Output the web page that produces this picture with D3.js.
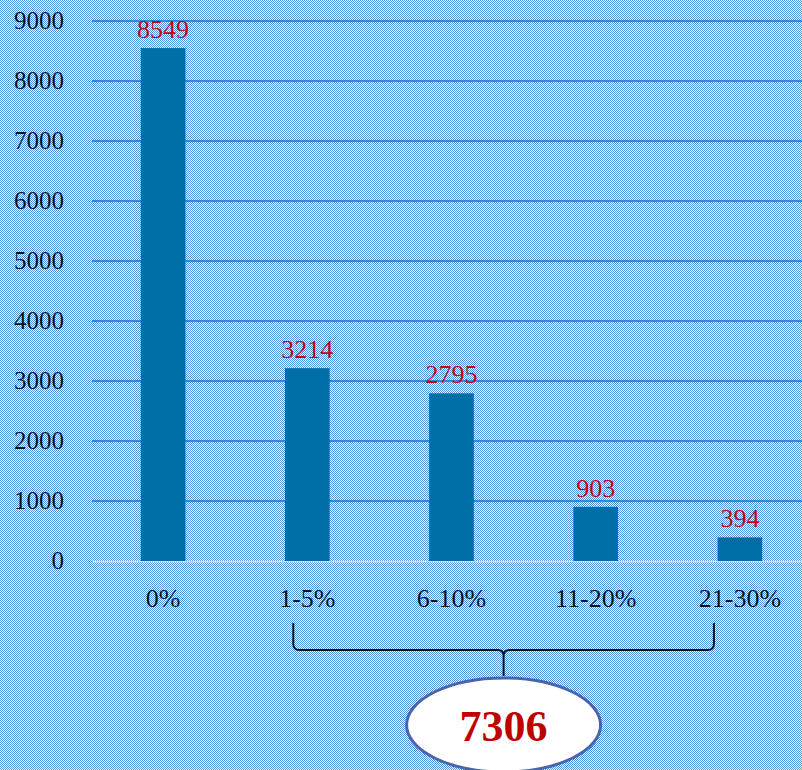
<!DOCTYPE html>
<html>
<head>
<meta charset="utf-8">
<script src="https://cdn.jsdelivr.net/npm/d3@7"></script>
<style>
  body { margin: 0; padding: 0; }
  svg { display: block; }
</style>
</head>
<body>
<div class="mainContainer"></div>
<script>
const categories = ['0%', '1-5%', '6-10%', '11-20%', '21-30%'];
const values = [8549, 3214, 2795, 903, 394];
const yTicks = [0, 1000, 2000, 3000, 4000, 5000, 6000, 7000, 8000, 9000];

let width = 802;
let height = 770;
let plotLeft = 91, plotRight = 812, plotTop = 21, plotBottom = 561;
const fontFam = 'Liberation Serif, serif';

const svg = d3.select('.mainContainer')
  .append('svg')
  .attr('width', width)
  .attr('height', height);

// checkered background
const defs = svg.append('defs');
const pat = defs.append('pattern')
  .attr('id', 'checker')
  .attr('width', 2).attr('height', 2)
  .attr('patternUnits', 'userSpaceOnUse');
pat.append('rect').attr('width', 2).attr('height', 2).attr('fill', '#ffffff');
pat.append('rect').attr('x', 0).attr('y', 0).attr('width', 1).attr('height', 1).attr('fill', '#4a8fdd');
pat.append('rect').attr('x', 1).attr('y', 1).attr('width', 1).attr('height', 1).attr('fill', '#4a8fdd');

svg.append('rect')
  .attr('width', width).attr('height', height)
  .attr('fill', 'url(#checker)');

const x = d3.scaleBand().domain(categories).range([plotLeft, plotRight])
  .paddingInner(0.69).paddingOuter(0.345);
const y = d3.scaleLinear().domain([0, 9000]).range([plotBottom, plotTop]);

// gridlines
svg.selectAll('.grid')
  .data(yTicks.filter(d => d > 0))
  .enter()
  .append('line')
  .attr('x1', 92).attr('x2', width)
  .attr('y1', d => y(d)).attr('y2', d => y(d))
  .attr('stroke', '#1f70b4')
  .attr('stroke-width', 1.5);

svg.append('line')
  .attr('x1', 92).attr('x2', width)
  .attr('y1', y(0) + 0.5).attr('y2', y(0) + 0.5)
  .attr('stroke', '#d9d9d9')
  .attr('stroke-width', 1.5);

// y labels
svg.selectAll('.ylab')
  .data(yTicks)
  .enter()
  .append('text')
  .text(d => d)
  .attr('x', 64)
  .attr('y', d => y(d) + 8)
  .attr('text-anchor', 'end')
  .style('font-family', fontFam)
  .style('font-size', '25px')
  .attr('fill', '#111');

// bars
const data = categories.map((c, i) => ({cat: c, value: values[i]}));
svg.selectAll('.bar')
  .data(data)
  .enter()
  .append('rect')
  .attr('x', d => x(d.cat))
  .attr('y', d => y(d.value))
  .attr('width', x.bandwidth())
  .attr('height', d => y(0) - y(d.value))
  .attr('fill', '#006fa8');

// value labels
svg.selectAll('.vlab')
  .data(data)
  .enter()
  .append('text')
  .text(d => d.value)
  .attr('x', d => x(d.cat) + x.bandwidth() / 2)
  .attr('y', d => y(d.value) - 10)
  .attr('text-anchor', 'middle')
  .style('font-family', fontFam)
  .style('font-size', '26px')
  .attr('fill', '#cc0000');

// category labels
svg.selectAll('.xlab')
  .data(categories)
  .enter()
  .append('text')
  .text(d => d)
  .attr('x', d => x(d) + x.bandwidth() / 2)
  .attr('y', 607)
  .attr('text-anchor', 'middle')
  .style('font-family', fontFam)
  .style('font-size', '26px')
  .attr('fill', '#111');

// brace over the non-zero groups
const bx1 = x('1-5%') + x.bandwidth() / 2 - 14;
const bx2 = x('21-30%') + x.bandwidth() / 2 - 26;
const bmid = (bx1 + bx2) / 2;
const by0 = 623, by1 = 650, by2 = 676, r = 6;
const brace = d3.path();
brace.moveTo(bx1, by0);
brace.lineTo(bx1, by1 - r);
brace.quadraticCurveTo(bx1, by1, bx1 + r, by1);
brace.lineTo(bmid - r, by1);
brace.quadraticCurveTo(bmid, by1, bmid, by1 + r);
brace.lineTo(bmid, by2);
brace.moveTo(bx2, by0);
brace.lineTo(bx2, by1 - r);
brace.quadraticCurveTo(bx2, by1, bx2 - r, by1);
brace.lineTo(bmid + r, by1);
brace.quadraticCurveTo(bmid, by1, bmid, by1 + r);
svg.append('path')
  .attr('d', brace.toString())
  .attr('fill', 'none')
  .attr('stroke', '#111')
  .attr('stroke-width', 2);

// total bubble
const total = d3.sum(values.slice(1));
svg.append('ellipse')
  .attr('cx', bmid).attr('cy', 725)
  .attr('rx', 97).attr('ry', 47)
  .attr('fill', '#ffffff')
  .attr('stroke', '#4a64aa')
  .attr('stroke-width', 3);

svg.append('text')
  .text(total)
  .attr('x', bmid)
  .attr('y', 741)
  .attr('text-anchor', 'middle')
  .style('font-family', fontFam)
  .style('font-size', '44px')
  .style('font-weight', 'bold')
  .attr('fill', '#c00000');
</script>
</body>
</html>
